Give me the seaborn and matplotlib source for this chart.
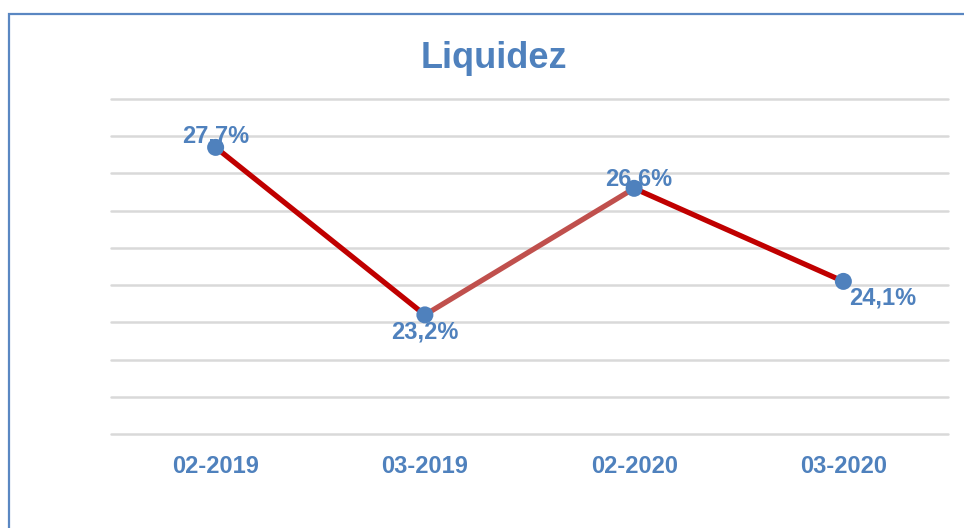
import matplotlib
matplotlib.use("Agg")
import matplotlib.pyplot as plt
from matplotlib.patches import Rectangle
import seaborn as sns
import pandas as pd

# Datos
periodos = ["02-2019", "03-2019", "02-2020", "03-2020"]
liquidez = [27.7, 23.2, 26.6, 24.1]
etiquetas = ["27,7%", "23,2%", "26,6%", "24,1%"]
colores_tramo = ["#C00000", "#C0504D", "#C00000"]

AZUL = "#4F81BD"

sns.set_theme(style="white")
plt.rcParams['font.family'] = ['Liberation Sans', 'DejaVu Sans']

df = pd.DataFrame({"x": range(len(periodos)), "valor": liquidez})

fig = plt.figure(figsize=(9.64, 5.28), dpi=100)
ax = fig.add_axes([111 / 964, 94 / 528, 837 / 964, 335 / 528])

# Marco del gráfico (cortado a la derecha y abajo)
fig.patches.append(Rectangle((9 / 964, -0.2), 1.2, 1.2 - 14 / 528,
                             transform=fig.transFigure, fill=False,
                             edgecolor="#5A87C2", linewidth=1.6, zorder=0))

# Líneas de cuadrícula
for y in range(20, 30):
    ax.axhline(y, color="#D9D9D9", linewidth=1.8, zorder=0, clip_on=False)

# Tramos de la línea con distinto color
for i, c in enumerate(colores_tramo):
    sns.lineplot(data=df.iloc[i:i + 2], x="x", y="valor", color=c,
                 linewidth=3.8, ax=ax, zorder=2)

sns.scatterplot(data=df, x="x", y="valor", color=AZUL, s=150,
                edgecolor="none", ax=ax, zorder=3)

# Etiquetas de datos
offsets = [(0, 8, "center", "center"), (0, -12, "center", "center"),
           (3, 7, "center", "center"), (28, -12, "center", "center")]
for i, (dx, dy, ha, va) in enumerate(offsets):
    ax.annotate(etiquetas[i], (i, liquidez[i]), xytext=(dx, dy),
                textcoords="offset points", ha=ha, va=va, fontsize=17,
                fontweight="bold", color=AZUL, zorder=4)

ax.set_xlim(-0.5, 3.5)
ax.set_ylim(20, 29)
ax.set_xticks(range(len(periodos)))
ax.set_xticklabels(periodos, fontsize=17, fontweight="bold", color=AZUL)
ax.set_yticks([])
ax.tick_params(axis="x", length=0, pad=15)
ax.set_xlabel("")
ax.set_ylabel("")
for s in ax.spines.values():
    s.set_visible(False)

fig.text(494 / 964, 1 - 58 / 528, "Liquidez", ha="center", va="center",
         fontsize=26, fontweight="bold", color=AZUL)

fig.savefig("out.png", dpi=100)
